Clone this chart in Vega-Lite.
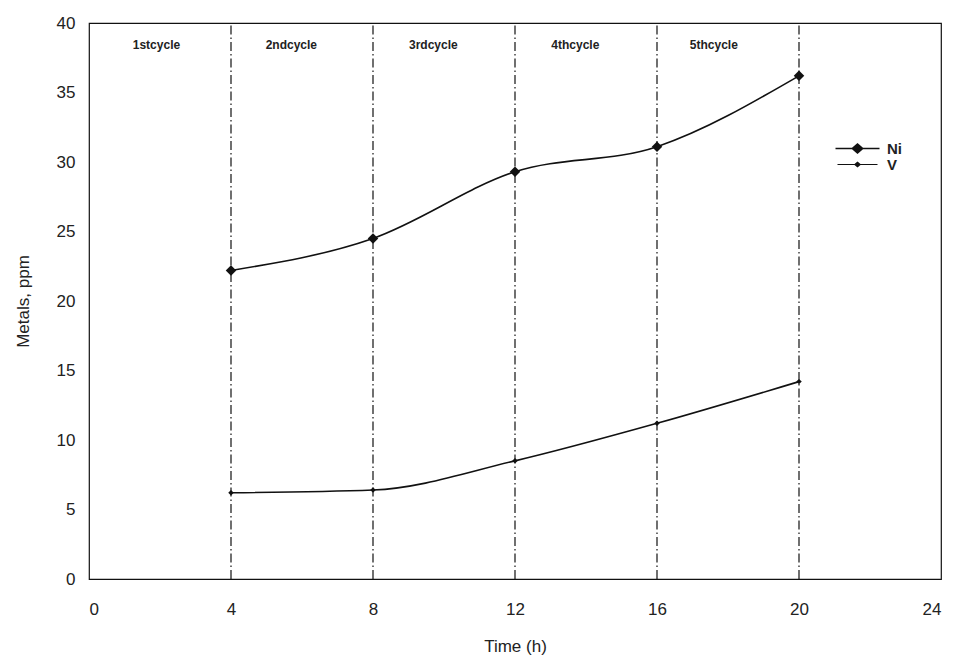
{
  "$schema": "https://vega.github.io/schema/vega-lite/v6.json",
  "width": 852,
  "height": 556,
  "autosize": "none",
  "padding": {"left": 89, "top": 23, "right": 14, "bottom": 81},
  "background": "white",
  "config": {
    "font": "Liberation Sans",
    "view": {"stroke": "#111", "strokeWidth": 1.2},
    "axis": {"grid": false, "domain": false, "ticks": false, "labelFont": "Liberation Sans", "labelFontSize": 17, "labelColor": "#222", "titleFont": "Liberation Sans", "titleFontSize": 17, "titleFontWeight": "normal", "titleColor": "#222"}
  },
  "datasets": {
    "metals": [
      {"series": "Ni", "time": 4, "value": 22.2},
      {"series": "Ni", "time": 8, "value": 24.5},
      {"series": "Ni", "time": 12, "value": 29.3},
      {"series": "Ni", "time": 16, "value": 31.1},
      {"series": "Ni", "time": 20, "value": 36.2},
      {"series": "V", "time": 4, "value": 6.2},
      {"series": "V", "time": 8, "value": 6.4},
      {"series": "V", "time": 12, "value": 8.5},
      {"series": "V", "time": 16, "value": 11.2},
      {"series": "V", "time": 20, "value": 14.2}
    ],
    "bounds": [{"t": 4}, {"t": 8}, {"t": 12}, {"t": 16}, {"t": 20}],
    "cycles": [
      {"t": 1.9, "label": "1stcycle"},
      {"t": 5.7, "label": "2ndcycle"},
      {"t": 9.7, "label": "3rdcycle"},
      {"t": 13.7, "label": "4thcycle"},
      {"t": 17.6, "label": "5thcycle"}
    ]
  },
  "layer": [
    {
      "data": {"name": "bounds"},
      "mark": {"type": "rule", "color": "#111", "strokeWidth": 1.2, "strokeDash": [9, 3, 1.5, 3]},
      "encoding": {
        "x": {"field": "t", "type": "quantitative", "scale": {"domain": [0, 24], "nice": false}, "axis": {"values": [0, 4, 8, 12, 16, 20, 24], "title": "Time (h)", "labelPadding": 22, "titlePadding": 21}},
        "y": {"datum": 0, "type": "quantitative"},
        "y2": {"datum": 40}
      }
    },
    {
      "data": {"name": "metals"},
      "mark": {"type": "line", "interpolate": "monotone", "color": "#111", "strokeWidth": 1.6},
      "encoding": {
        "x": {"field": "time", "type": "quantitative"},
        "y": {"field": "value", "type": "quantitative", "scale": {"domain": [0, 40], "nice": false}, "axis": {"values": [0, 5, 10, 15, 20, 25, 30, 35, 40], "title": "Metals, ppm", "labelPadding": 14, "titlePadding": 24}},
        "detail": {"field": "series"}
      }
    },
    {
      "data": {"name": "metals"},
      "transform": [{"filter": "datum.series === 'Ni'"}],
      "mark": {"type": "point", "shape": "diamond", "filled": true, "color": "#111", "opacity": 1, "size": 110},
      "encoding": {
        "x": {"field": "time", "type": "quantitative"},
        "y": {"field": "value", "type": "quantitative"}
      }
    },
    {
      "data": {"name": "metals"},
      "transform": [{"filter": "datum.series === 'V'"}],
      "mark": {"type": "point", "shape": "diamond", "filled": true, "color": "#111", "opacity": 1, "size": 30},
      "encoding": {
        "x": {"field": "time", "type": "quantitative"},
        "y": {"field": "value", "type": "quantitative"}
      }
    },
    {
      "data": {"name": "metals"},
      "mark": {"type": "point", "filled": true, "color": "#111", "size": 0},
      "encoding": {
        "x": {"field": "time", "type": "quantitative"},
        "y": {"field": "value", "type": "quantitative"},
        "shape": {
          "field": "series", "type": "nominal",
          "scale": {"domain": ["Ni", "V"], "range": ["M-4.4,-0.13H-1.1L0,-1.1L1.1,-0.13H4.4V0.13H1.1L0,1.1L-1.1,0.13H-4.4Z", "M-4,-0.12H-0.6L0,-0.6L0.6,-0.12H4V0.12H0.6L0,0.6L-0.6,0.12H-4Z"]},
          "legend": {"title": null, "orient": "none", "legendX": 761, "legendY": 118, "symbolSize": 100, "symbolOpacity": 1, "symbolFillColor": "#111", "symbolStrokeColor": "#111", "symbolStrokeWidth": 0, "labelFontSize": 15, "labelFontWeight": "bold", "labelColor": "#222", "labelOffset": 22, "rowPadding": 0}
        }
      }
    },
    {
      "data": {"name": "cycles"},
      "mark": {"type": "text", "fontSize": 12, "fontWeight": "bold", "color": "#222", "align": "center", "baseline": "middle"},
      "encoding": {
        "x": {"field": "t", "type": "quantitative"},
        "y": {"datum": 38.4, "type": "quantitative"},
        "text": {"field": "label"}
      }
    }
  ]
}
